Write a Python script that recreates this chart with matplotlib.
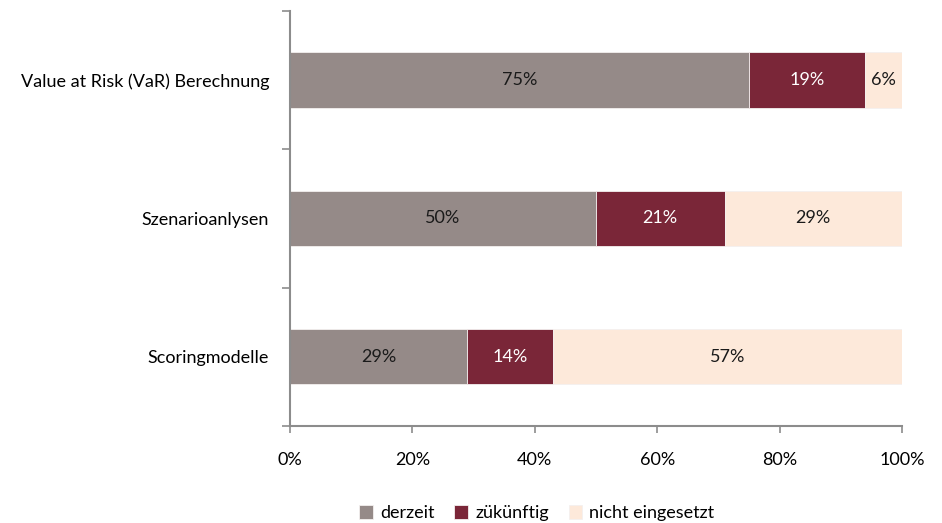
import matplotlib.pyplot as plt
import numpy as np

plt.rcParams['font.family'] = ['Lato', 'DejaVu Sans']

categories = ['Value at Risk (VaR) Berechnung', 'Szenarioanlysen', 'Scoringmodelle']
derzeit = [75, 50, 29]
zukuenftig = [19, 21, 14]
nicht = [6, 29, 57]
series_names = ['derzeit', 'zükünftig', 'nicht eingesetzt']
colors = ['#958a88', '#7a2638', '#fde9da']
text_colors = ['#1a1a1a', 'white', '#1a1a1a']
fs = 13

fig = plt.figure(figsize=(9.42, 5.23), dpi=100)
ax = fig.add_axes([0.3079, 0.1855, 0.6496, 0.7935])

y = np.arange(len(categories))
left = np.zeros(len(categories))
for vals, name, c, tc in zip([derzeit, zukuenftig, nicht], series_names, colors, text_colors):
    vals = np.array(vals, dtype=float)
    bars = ax.barh(y, vals, left=left, height=0.4, color=c, label=name,
                   edgecolor='#f4f0ef', linewidth=0.6)
    for b, v in zip(bars, vals):
        ax.text(b.get_x() + b.get_width() / 2, b.get_y() + b.get_height() / 2,
                f'{v:.0f}%', ha='center', va='center', color=tc, fontsize=fs)
    left += vals

ax.set_xlim(0, 100)
ax.set_ylim(2.5, -0.5)
ax.set_xticks(np.arange(0, 101, 20))
ax.set_xticklabels([f'{v}%' for v in range(0, 101, 20)], fontsize=fs)
ax.set_yticks(y)
ax.set_yticklabels(categories, fontsize=fs)
ax.set_yticks([-0.5, 0.5, 1.5, 2.5], minor=True)
ax.tick_params(axis='y', which='major', length=0, pad=15)
ax.tick_params(axis='y', which='minor', length=6, width=1.2, color='#8c8c8c')
ax.tick_params(axis='x', length=5, width=1.2, color='#8c8c8c', pad=14)

for s in ['top', 'right']:
    ax.spines[s].set_visible(False)
for s in ['left', 'bottom']:
    ax.spines[s].set_color('#8c8c8c')
    ax.spines[s].set_linewidth(1.5)

fig.legend(loc='lower center', bbox_to_anchor=(0.57, -0.028), ncol=3, frameon=False,
           fontsize=fs, handlelength=0.75, handleheight=0.75, handletextpad=0.4,
           columnspacing=1.1)

fig.savefig('out.png', dpi=100)
